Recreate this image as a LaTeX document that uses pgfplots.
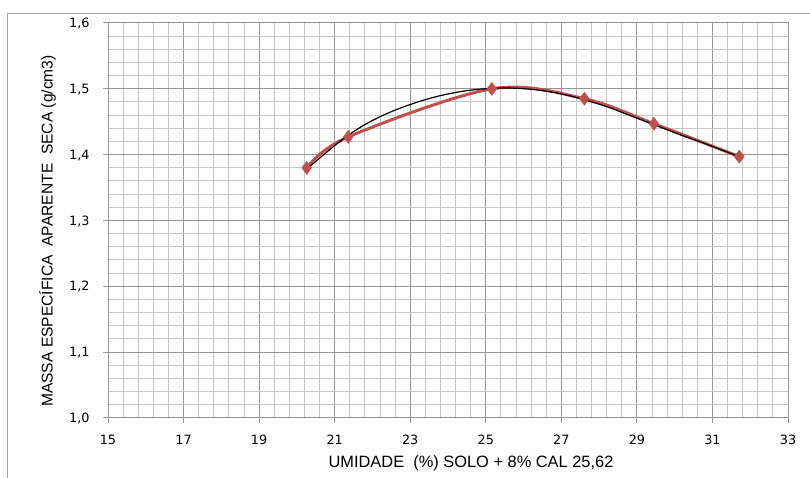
\documentclass[border=0pt]{standalone}
\usepackage{pgfplots}
\pgfplotsset{compat=1.18}
\usepackage{fontspec}
\setmainfont{Liberation Sans}
\newfontfamily\tickfont{DejaVu Sans}
\definecolor{serie}{RGB}{192,80,77}
\definecolor{gridmajor}{RGB}{150,150,150}
\definecolor{gridminor}{RGB}{200,200,200}
\definecolor{framegray}{RGB}{165,165,165}

% Ensaio de compactacao: pontos medidos e curva de tendencia
\pgfplotstableread{
x      y
20.26  1.380
21.36  1.427
25.16  1.500
27.61  1.485
29.45  1.447
31.71  1.397
}\pontos

\pgfplotstableread{
x      y
20.26  1.378
20.75  1.402
21.25  1.425
21.75  1.444
22.25  1.459
22.75  1.471
23.25  1.481
23.75  1.489
24.25  1.495
24.75  1.499
25.25  1.501
25.75  1.501
26.25  1.499
26.75  1.495
27.25  1.489
27.75  1.481
28.25  1.472
28.75  1.461
29.25  1.450
29.75  1.439
30.25  1.428
30.75  1.418
31.25  1.407
31.71  1.397
}\tendencia

\begin{document}
\begin{tikzpicture}
\useasboundingbox (0pt,0pt) rectangle (810pt,478pt);
% moldura da area do grafico
\draw[framegray, line width=1pt] (7pt,-20pt) -- (7pt,464pt) -- (830pt,464pt);
\begin{axis}[
  at={(108pt,60pt)}, anchor=south west,
  scale only axis, width=680pt, height=395pt,
  xmin=15, xmax=33, ymin=1.0, ymax=1.6,
  xtick={15,17,19,21,23,25,27,29,31,33},
  ytick={1.0,1.1,1.2,1.3,1.4,1.5,1.6},
  minor x tick num=4, minor y tick num=4,
  grid=both,
  major grid style={gridmajor, line width=1pt},
  minor grid style={gridminor, line width=1pt},
  axis line style={gridmajor, line width=1pt},
  tick pos=left, tick align=outside,
  major tick length=5pt, minor tick length=0pt,
  major tick style={gridmajor, line width=1pt},
  /pgf/number format/assume math mode=true,
  ticklabel style={font=\tickfont\fontsize{12.8}{15}\selectfont},
  xticklabel style={anchor=center, yshift=-17pt, text height=9.3pt, text depth=0pt},
  yticklabel style={anchor=east, xshift=-10pt, text height=9.3pt, text depth=0pt,
    /pgf/number format/.cd, fixed, fixed zerofill, precision=1, use comma},
]
\addplot[serie, line width=3pt, smooth, tension=0.55,
  mark=diamond*, mark size=6.5pt, mark options={serie, line width=0.5pt}]
  table[x=x, y=y] {\pontos};
\addplot[black, line width=1.2pt, smooth] table[x=x, y=y] {\tendencia};
\end{axis}
\node[rotate=90, font=\fontsize{15.6}{18}\selectfont] at (47.5pt,247pt)
  {MASSA ESPECÍFICA\ \ APARENTE\ \ SECA (g/cm3)};
\node[font=\fontsize{16.4}{19}\selectfont] at (471pt,14.5pt)
  {UMIDADE\ \ (\%) SOLO + 8\% CAL 25,62};
\end{tikzpicture}
\end{document}
